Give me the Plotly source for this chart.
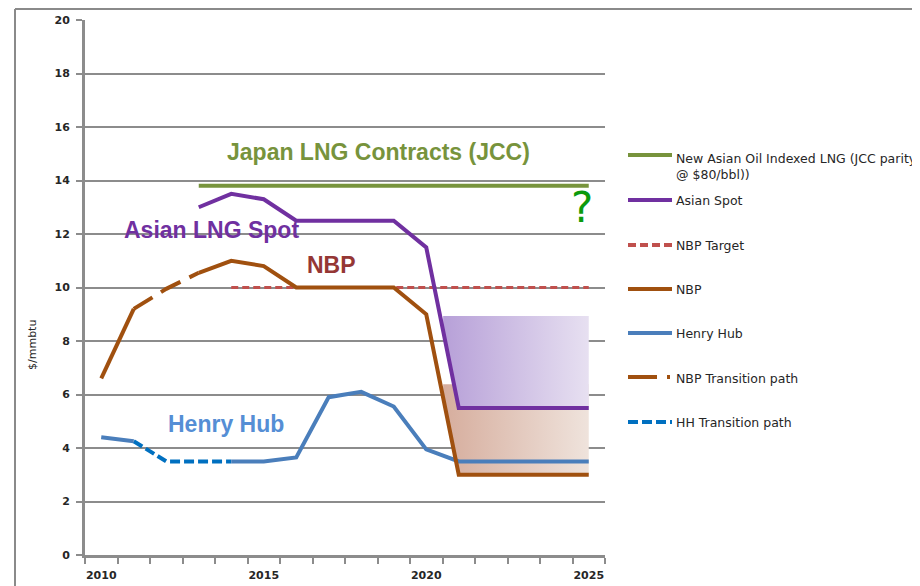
import plotly.graph_objects as go

# ---------------- data ----------------
years = list(range(2010, 2026))

jcc = [None, None, None, 13.8, 13.8, 13.8, 13.8, 13.8, 13.8, 13.8, 13.8, 13.8, 13.8, 13.8, 13.8, 13.8]
asian_spot = [None, None, None, 13.0, 13.5, 13.3, 12.5, 12.5, 12.5, 12.5, 11.5, 5.5, 5.5, 5.5, 5.5, 5.5]
nbp_target = [None, None, None, None, 10.0, 10.0, 10.0, 10.0, 10.0, 10.0, 10.0, 10.0, 10.0, 10.0, 10.0, 10.0]
nbp = [6.6, 9.2, None, 10.55, 11.0, 10.8, 10.0, 10.0, 10.0, 10.0, 9.0, 3.0, 3.0, 3.0, 3.0, 3.0]
henry_hub = [4.4, 4.25, None, None, 3.5, 3.5, 3.65, 5.9, 6.1, 5.55, 3.95, 3.5, 3.5, 3.5, 3.5, 3.5]
nbp_transition = [None, 9.2, 9.95, 10.55, None, None, None, None, None, None, None, None, None, None, None, None]
hh_transition = [None, 4.25, 3.5, 3.5, 3.5, None, None, None, None, None, None, None, None, None, None, None]

# shaded ranges after 2020
band_x = [2020.52, 2021, 2022, 2023, 2024, 2025]
asia_band_top = [8.93, 8.93, 8.93, 8.93, 8.93, 8.93]
asia_band_bottom = [8.38, 5.5, 5.5, 5.5, 5.5, 5.5]
nbp_band_top = [6.38, 6.38, 6.38, 6.38, 6.38, 6.38]
nbp_band_bottom = [5.88, 3.0, 3.0, 3.0, 3.0, 3.0]

x_tick_labels = ["2010", "2015", "2020", "2025"]
x_tick_years = [2010, 2015, 2020, 2025]

legend_labels = [
    "New Asian Oil Indexed LNG (JCC parity<br>@ $80/bbl))",
    "Asian Spot",
    "NBP Target",
    "NBP",
    "Henry Hub",
    "NBP Transition path",
    "HH Transition path",
]

# ---------------- styles ----------------
C_JCC = "#77933c"
C_ASIA = "#7030a0"
C_TARGET = "#c0504d"
C_NBP = "#a0500f"
C_HH = "#4a7ebb"
C_HHT = "#0070c0"
GRID = "#8c8c8c"

# page body has an 8px margin: figure is sized/shifted to compensate
OFF = 8
W, H = 920 - OFF, 586 - OFF
L, T = 85 - OFF, 20 - OFF
PW, PH = 520, 535
R = W - L - PW
B = H - T - PH


def px(p):
    """page x pixel -> paper x"""
    return (p - 85) / PW


def py(p):
    """page y pixel -> paper y"""
    return (555 - p) / PH


fig = go.Figure()


def band(xs, top, bottom, scale):
    xx = list(xs) + list(xs)[::-1]
    yy = list(top) + list(bottom)[::-1]
    return go.Scatter(x=xx, y=yy, fill="toself", mode="none",
                      fillgradient=dict(type="horizontal", colorscale=scale),
                      hoverinfo="skip", showlegend=False)


fig.add_trace(band(band_x, nbp_band_top, nbp_band_bottom,
                   [[0, "#d6ad9d"], [1, "#efe3dc"]]))
fig.add_trace(band(band_x, asia_band_top, asia_band_bottom,
                   [[0, "#b7a0d8"], [1, "#e7e0f1"]]))

fig.add_trace(go.Scatter(x=years, y=nbp_target, mode="lines", name="NBP Target",
                         line=dict(color=C_TARGET, width=3, dash="7px,4px")))
fig.add_trace(go.Scatter(x=years, y=hh_transition, mode="lines", name="HH Transition path",
                         line=dict(color=C_HHT, width=4, dash="10px,4px")))
fig.add_trace(go.Scatter(x=years, y=henry_hub, mode="lines", name="Henry Hub",
                         line=dict(color=C_HH, width=4)))
fig.add_trace(go.Scatter(x=years, y=nbp_transition, mode="lines", name="NBP Transition path",
                         line=dict(color=C_NBP, width=4, dash="22px,10px")))
fig.add_trace(go.Scatter(x=years, y=nbp, mode="lines", name="NBP",
                         line=dict(color=C_NBP, width=4)))
fig.add_trace(go.Scatter(x=years, y=asian_spot, mode="lines", name="Asian Spot",
                         line=dict(color=C_ASIA, width=4)))
fig.add_trace(go.Scatter(x=years, y=jcc, mode="lines", name="New Asian Oil Indexed LNG",
                         line=dict(color=C_JCC, width=4)))

shapes = []
annotations = []

# outer chart border (left and top edges)
shapes.append(dict(type="line", xref="paper", yref="paper", x0=px(15), x1=px(15),
                   y0=py(9), y1=py(600), line=dict(color="#8a8a8a", width=2)))
shapes.append(dict(type="line", xref="paper", yref="paper", x0=px(15), x1=px(930),
                   y0=py(9), y1=py(9), line=dict(color="#8a8a8a", width=2)))

# manual legend
leg_styles = [
    dict(color=C_JCC, width=4),
    dict(color=C_ASIA, width=4),
    dict(color=C_TARGET, width=4, dash="8px,4px"),
    dict(color=C_NBP, width=4),
    dict(color=C_HH, width=4),
    dict(color=C_NBP, width=4, dash="29px,10px,3px,30px"),
    dict(color=C_HHT, width=4, dash="10px,4px"),
]
leg_line_y = [155, 200, 245, 289, 333, 377, 422]
leg_text_y = [166, 201, 245, 289, 333, 378, 422]
for lab_text, st, ly, ty in zip(legend_labels, leg_styles, leg_line_y, leg_text_y):
    shapes.append(dict(type="line", xref="paper", yref="paper", x0=px(628), x1=px(672),
                       y0=py(ly), y1=py(ly), line=st))
    annotations.append(dict(xref="paper", yref="paper", x=px(674), y=py(ty), text=lab_text,
                            showarrow=False, xanchor="left", yanchor="middle", align="left",
                            font=dict(family="DejaVu Sans", size=12.5, color="#262626")))


def lab(text, x, y, color, size=23, weight="bold", family="Liberation Sans"):
    annotations.append(dict(xref="x", yref="y", x=x, y=y, text=text, showarrow=False,
                            xanchor="center", yanchor="middle",
                            font=dict(family=family, size=size, color=color, weight=weight)))


lab("Japan LNG Contracts (JCC)", 2018.52, 15.07, C_JCC)
lab("Asian LNG Spot", 2013.38, 12.15, C_ASIA)
lab("NBP", 2017.07, 10.84, "#953735")
lab("Henry Hub", 2013.84, 4.9, "#558ed5")
lab("?", 2024.79, 13.0, "#0c9a0c", size=42, weight="normal", family="DejaVu Sans")

# y axis title
annotations.append(dict(xref="paper", yref="paper", x=px(32), y=py(345), text="$/mmbtu",
                        textangle=-90, showarrow=False, xanchor="center", yanchor="middle",
                        font=dict(family="DejaVu Sans", size=11, color="#262626")))

fig.update_layout(
    template="none",
    width=W, height=H,
    margin=dict(l=L, r=R, t=T, b=B, pad=0, autoexpand=False),
    paper_bgcolor="white", plot_bgcolor="white",
    showlegend=False,
    shapes=shapes,
    annotations=annotations,
    xaxis=dict(
        automargin=False,
        range=[2009.5, 2025.5],
        tickmode="array", tickvals=x_tick_years, ticktext=x_tick_labels,
        ticks="outside", ticklen=0, tickcolor=GRID, ticklabelstandoff=8,
        minor=dict(tickmode="linear", tick0=2009.5, dtick=1, ticks="outside",
                   ticklen=6, tickwidth=2, tickcolor=GRID, showgrid=False),
        showgrid=False, zeroline=False,
        showline=True, linecolor=GRID, linewidth=3,
        tickfont=dict(family="DejaVu Sans", size=11, color="#262626", weight="bold"),
        fixedrange=True,
    ),
    yaxis=dict(
        automargin=False,
        range=[0, 20], tickmode="linear", tick0=0, dtick=2,
        ticks="outside", ticklen=6, tickwidth=2, tickcolor=GRID, ticklabelstandoff=4,
        showgrid=True, gridcolor=GRID, gridwidth=2,
        zeroline=False, showline=True, linecolor=GRID, linewidth=3,
        tickfont=dict(family="DejaVu Sans", size=11, color="#262626", weight="bold"),
        fixedrange=True,
    ),
)

fig.write_html("out.html")
